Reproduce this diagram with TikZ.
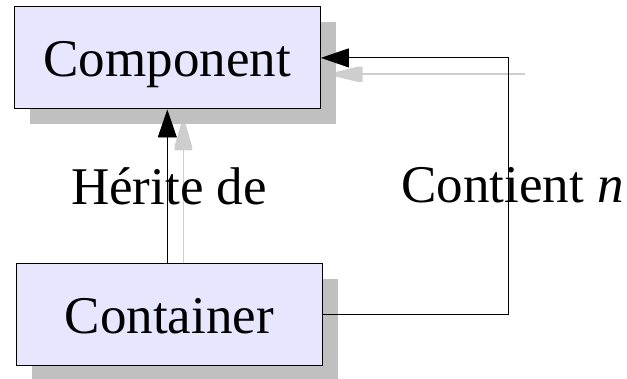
\documentclass[tikz,border=0pt]{standalone}
\usepackage{fontspec}
\setmainfont{Liberation Serif}
\usetikzlibrary{arrows.meta}
\definecolor{boxfill}{RGB}{230,230,255}
\definecolor{shadowgray}{RGB}{192,192,192}
\definecolor{ghostline}{RGB}{206,206,206}
\begin{document}
\begin{tikzpicture}[x=1pt,y=-1pt,
  bigfont/.style={font=\fontsize{53}{60}\selectfont},
  classbox/.style={draw=black, line width=1.2pt, fill=boxfill, inner sep=0pt,
    minimum width=306pt, minimum height=102pt, text height=50pt, text depth=12.8pt, bigfont},
  shadowbox/.style={fill=shadowgray, draw=none, inner sep=0pt,
    minimum width=306pt, minimum height=102pt},
  link/.style={draw=black, line width=0.9pt},
  head/.style={-{Triangle[length=28pt,width=19pt]}},
  ghost/.style={draw=ghostline, line width=1.6pt},
  ghosthead/.style={fill=ghostline, draw=none},
  caption/.style={bigfont, inner sep=0pt, anchor=base}]
\useasboundingbox (0,0) rectangle (627,379);
\clip (0,0) rectangle (627,379);

% drop shadows of the two classes
\node[shadowbox] (compShadow) at (182.8,73.4) {};
\node[shadowbox] (contShadow) at (184.9,330) {};

% faint shadow copies of the connectors
\coordinate (ghostTop) at (183.3,150);
\coordinate (ghostRight) at (525,74.3);
\coordinate (ghostLeft) at (362,74.3);
\draw[ghost] (ghostTop) -- (ghostTop |- contShadow.north);
\draw[ghost] (ghostLeft) -- (ghostRight);
\fill[ghosthead] (181,124) -- (185.6,124) -- (192,146) -- (192,150.5)
  -- (174.6,150.5) -- (174.6,146) -- cycle;
\fill[ghosthead] (336,72) -- (336,76.6) -- (358,82) -- (362.5,82)
  -- (362.5,66.6) -- (358,66.6) -- cycle;

% classes
\node[classbox] (component) at (167.3,57.9) {Component};
\node[classbox] (container) at (169.4,314.5) {Container};

% inheritance and containment links
\draw[link, head] (container.north -| component.south) -- (component.south);
\coordinate (bend) at (508,57.9);
\draw[link, head] (container.east) -| (bend) -- (component.east);

% link captions
\node[caption] (inherits) at (169,205) {Hérite de};
\node[caption] (contains) at (512.5,203) {Contient \textit{n}};
\end{tikzpicture}
\end{document}
